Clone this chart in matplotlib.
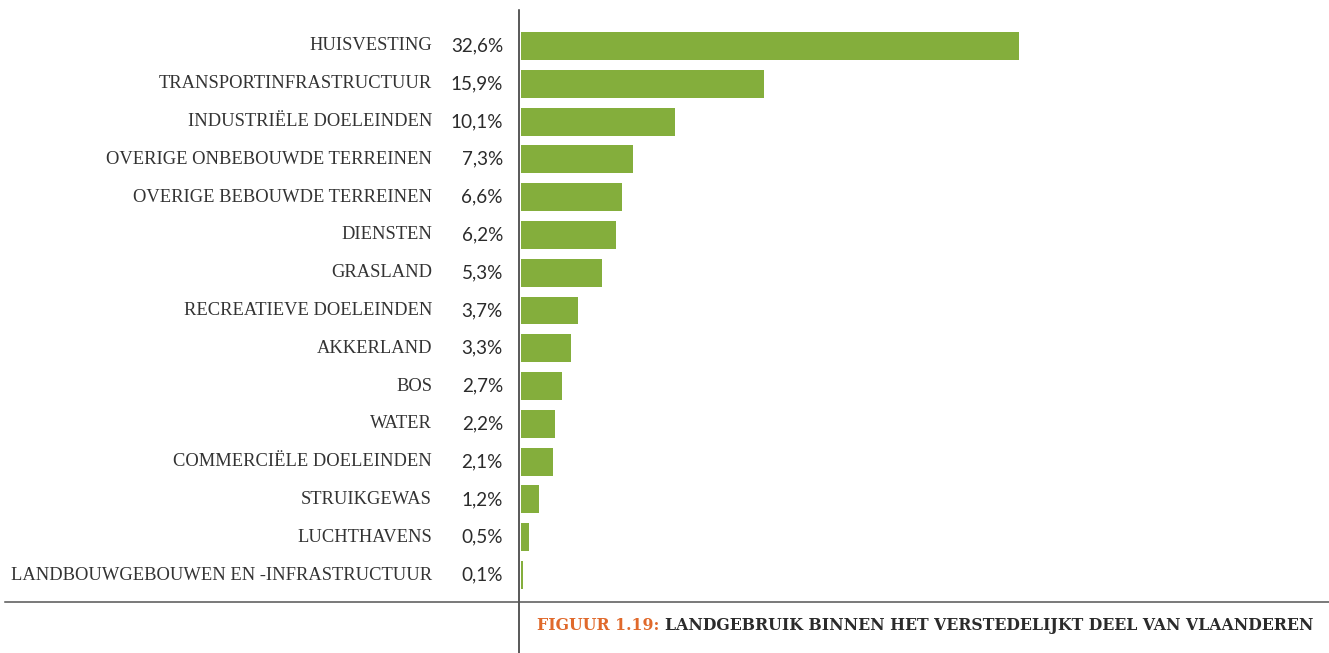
import matplotlib
matplotlib.use("Agg")
import matplotlib.pyplot as plt

categories = [
    "HUISVESTING", "TRANSPORTINFRASTRUCTUUR", "INDUSTRIËLE DOELEINDEN",
    "OVERIGE ONBEBOUWDE TERREINEN", "OVERIGE BEBOUWDE TERREINEN", "DIENSTEN",
    "GRASLAND", "RECREATIEVE DOELEINDEN", "AKKERLAND", "BOS", "WATER",
    "COMMERCIËLE DOELEINDEN", "STRUIKGEWAS", "LUCHTHAVENS",
    "LANDBOUWGEBOUWEN EN -INFRASTRUCTUUR",
]
shares = [32.6, 15.9, 10.1, 7.3, 6.6, 6.2, 5.3, 3.7, 3.3, 2.7, 2.2, 2.1, 1.2, 0.5, 0.1]
caption_num = "FIGUUR 1.19: "
caption_txt = "LANDGEBRUIK BINNEN HET VERSTEDELIJKT DEEL VAN VLAANDEREN"

GREEN = "#84ae3c"
ORANGE = "#e0692b"
DARK = "#2b2b2b"

W, H = 1329, 653
fig = plt.figure(figsize=(W / 100, H / 100), dpi=100)

# axes spans from the vertical rule (x=519) to the right edge, y 10..602 px
ax_l, ax_r, ax_t, ax_b = 519, 1329, 10, 602
ax = fig.add_axes([ax_l / W, 1 - ax_b / H, (ax_r - ax_l) / W, (ax_b - ax_t) / H])
px_per_unit = (1018 - 520) / 32.6
ax.set_xlim(-1 / px_per_unit, (ax_r - ax_l - 1) / px_per_unit)
row = 37.8
ax.set_ylim(14 + (602 - 575) / row, -(46 - 10) / row)

ypos = list(range(len(categories)))
ax.barh(ypos, shares, height=28 / row, color=GREEN, left=1 / px_per_unit)
ax.axis("off")

for y, cat, v in zip(ypos, categories, shares):
    ax.text(-88 / px_per_unit, y, cat, ha="right", va="center",
            fontsize=13.3, color="#333333", family="Liberation Serif")
    ax.text(-17 / px_per_unit, y, f"{v:.1f}%".replace(".", ","), ha="right",
            va="center", fontsize=13.6, color=DARK, family="Lato")

# frame lines in figure coordinates
fig.add_artist(plt.Line2D([519 / W, 519 / W], [0, 1 - 10 / H], color=DARK, lw=1.1))
fig.add_artist(plt.Line2D([5 / W, 1], [1 - 602 / H] * 2, color="#555555", lw=1.1))

t1 = fig.text(537 / W, 1 - 626 / H, caption_num, ha="left", va="center",
              fontsize=11.3, fontweight="bold", color=ORANGE, family="DejaVu Serif")
fig.canvas.draw()
bb = t1.get_window_extent()
fig.text(bb.x1 / W, 1 - 626 / H, caption_txt, ha="left", va="center",
         fontsize=11.3, fontweight="bold", color=DARK, family="DejaVu Serif")

fig.savefig("out.png", dpi=100)
